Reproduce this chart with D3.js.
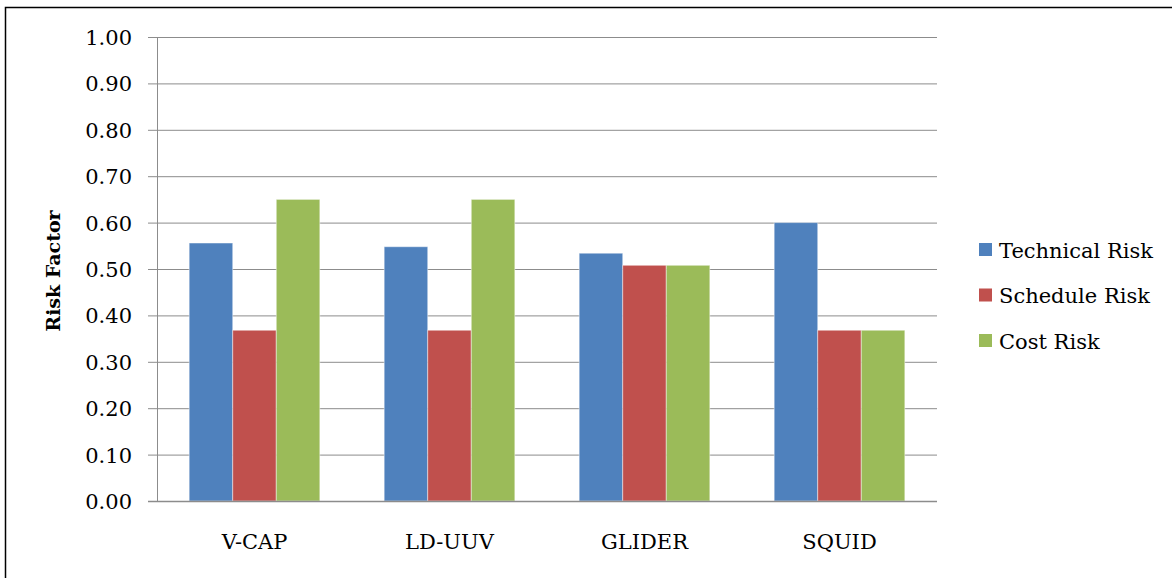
<!DOCTYPE html>
<html><head><meta charset="utf-8">
<script src="https://cdn.jsdelivr.net/npm/d3@7"></script>
<style>body{margin:0;background:#fff}svg{display:block}</style>
</head><body><svg id="c" width="1172" height="578"></svg>
<script>
const categories = ["V-CAP","LD-UUV","GLIDER","SQUID"];
const seriesNames = ["Technical Risk","Schedule Risk","Cost Risk"];
const technicalRisk = [0.556, 0.548, 0.534, 0.600];
const scheduleRisk = [0.368, 0.368, 0.508, 0.368];
const costRisk = [0.650, 0.650, 0.508, 0.368];
const yTicks = [0,0.1,0.2,0.3,0.4,0.5,0.6,0.7,0.8,0.9,1.0];
const colors = ["#4F81BD","#C0504D","#9BBB59"];
const seriesValues = [technicalRisk, scheduleRisk, costRisk];
const FONT = "'DejaVu Serif', serif";

const svg = d3.select("#c");
svg.append("rect").attr("x",5.5).attr("y",7.5).attr("width",1200).attr("height",600)
  .attr("fill","none").attr("stroke","#000").attr("stroke-width",1.5);

const L=157, R=937, T=37, B=501;
const y = d3.scaleLinear().domain([0,1]).range([B,T]);
const x0 = d3.scaleBand().domain(categories).range([L,R]).paddingInner(0.33).paddingOuter(0.165);
const x1 = d3.scaleBand().domain(seriesNames).range([0,x0.bandwidth()]);

// gridlines + ticks
const yAxis = d3.axisLeft(y).tickValues(yTicks).tickFormat(d3.format(".2f")).tickSize(-(R-L));
const ga = svg.append("g").attr("transform",`translate(${L},0)`).call(yAxis).attr("font-family",FONT);
ga.select(".domain").remove();
ga.selectAll(".tick line").attr("stroke","#8c8c8c").attr("x1",-9);
ga.selectAll(".tick text").attr("font-size",21).attr("font-family",FONT).attr("fill","#000").attr("x",-25).attr("dy","0.36em");

// bars
categories.forEach((c,i)=>{
  seriesNames.forEach((s,j)=>{
    const v = seriesValues[j][i];
    svg.append("rect").attr("x",x0(c)+x1(s)).attr("y",y(v)).attr("width",x1.bandwidth()).attr("height",y(0)-y(v))
      .attr("fill",colors[j]).attr("stroke","rgba(255,255,255,0.45)").attr("stroke-width",1);
  });
});

// axis lines
svg.append("line").attr("x1",L+0.5).attr("x2",L+0.5).attr("y1",T).attr("y2",B).attr("stroke","#8c8c8c");
svg.append("line").attr("x1",L-9).attr("x2",R).attr("y1",B+0.5).attr("y2",B+0.5).attr("stroke","#8c8c8c").attr("stroke-width",1.5);

// x labels
const xa = d3.axisBottom(x0).tickSize(0).tickPadding(0);
const gx = svg.append("g").attr("transform",`translate(0,${B})`).call(xa).attr("font-family",FONT);
gx.select(".domain").remove();
gx.selectAll(".tick text").attr("font-size",21).attr("font-family",FONT).attr("fill","#000").attr("dy",0).attr("y",48);

// y title
svg.append("text").attr("transform","translate(60,271) rotate(-90)").attr("text-anchor","middle")
  .attr("font-family",FONT).attr("font-size",19).attr("font-weight","bold").text("Risk Factor");

// legend
const lg = svg.append("g");
seriesNames.forEach((s,j)=>{
  const cy = 250 + j*45.5;
  lg.append("rect").attr("x",979).attr("y",cy-7).attr("width",13).attr("height",13).attr("fill",colors[j]);
  lg.append("text").attr("x",999).attr("y",cy+7.5).attr("font-family",FONT).attr("font-size",21).text(s);
});
</script></body></html>
